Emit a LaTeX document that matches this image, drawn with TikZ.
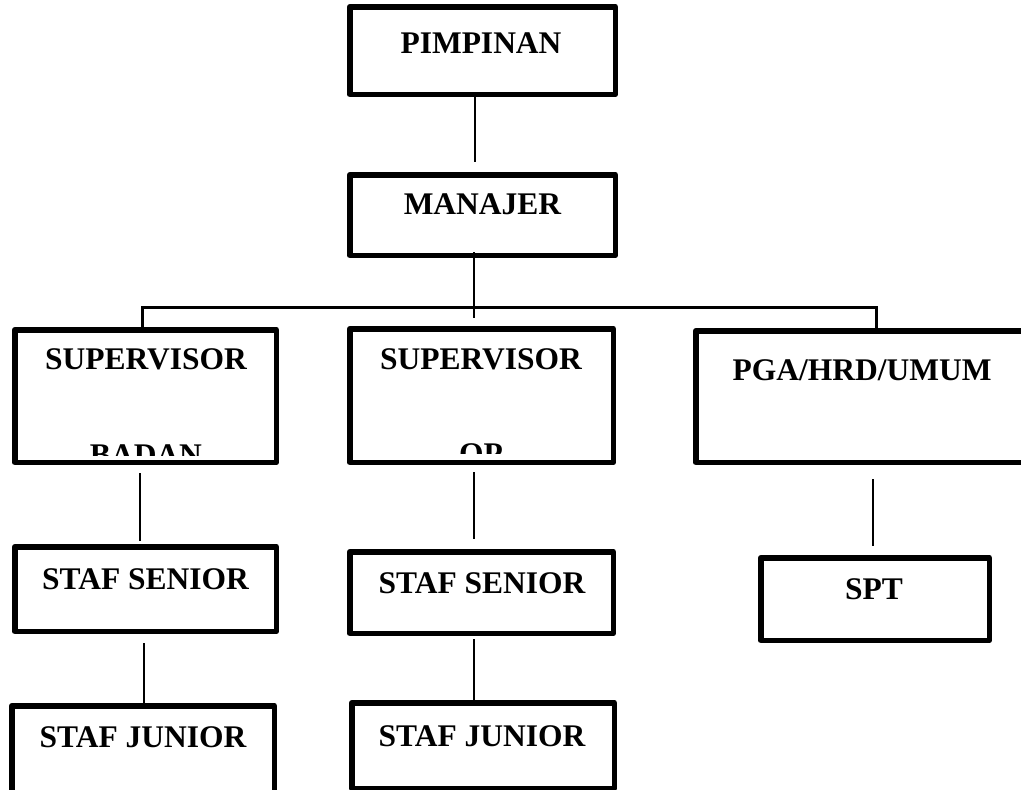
\documentclass[tikz,border=0pt]{standalone}
\usepackage{fontspec}
\setmainfont{Liberation Serif}
\begin{document}
\begin{tikzpicture}[x=1pt,y=-1pt,
  boxst/.style={draw=black, line width=5.5pt, rectangle, inner sep=0pt, line join=round},
  lbl/.style={font=\bfseries\fontsize{31.5pt}{36pt}\selectfont, inner sep=0pt, anchor=base, text=black},
  conn/.style={draw=black, line width=2.7pt},
  bar/.style={draw=black, line width=3pt}]
\path[use as bounding box] (0,0) rectangle (1021,790);
\clip (0,0) rectangle (1021,790);
% boxes
\node[boxst, minimum width=265.5pt, minimum height=87.5pt] (pim) at (482.5,50.5) {};
\node[boxst, minimum width=265.5pt, minimum height=80.5pt] (man) at (482.5,215) {};
\node[boxst, minimum width=261.5pt, minimum height=132.5pt] (supb) at (145.5,396) {};
\node[boxst, minimum width=263.5pt, minimum height=133.5pt] (supo) at (481.5,395.5) {};
\node[boxst, minimum width=332.5pt, minimum height=131.5pt] (pga) at (862,396.5) {};
\node[boxst, minimum width=261.5pt, minimum height=84.5pt] (ssl) at (145.5,589) {};
\node[boxst, minimum width=263.5pt, minimum height=81.5pt] (ssm) at (481.5,592.5) {};
\node[boxst, minimum width=228.5pt, minimum height=82.5pt] (spt) at (875,599) {};
\node[boxst, minimum width=262.5pt, minimum height=91.5pt] (sjl) at (143,751.5) {};
\node[boxst, minimum width=262.5pt, minimum height=85.5pt] (sjm) at (483,745.5) {};
% labels
\node[lbl] (tpim) at (481,53) {PIMPINAN};
\node[lbl] (tman) at (482.5,214) {MANAJER};
\node[lbl] (tsupb) at (146,369) {SUPERVISOR};
\node[lbl] (tsupo) at (481,369) {SUPERVISOR};
\node[lbl] (tpga) at (862,380) {PGA/HRD/UMUM};
\node[lbl] (tssl) at (145.5,589) {STAF SENIOR};
\node[lbl] (tssm) at (482,593) {STAF SENIOR};
\node[lbl] (tspt) at (874,599) {SPT};
\node[lbl] (tsjl) at (143,747) {STAF JUNIOR};
\node[lbl] (tsjm) at (482,746) {STAF JUNIOR};
\begin{scope}
\clip (20,430) rectangle (270,455);
\node[lbl] (tbadan) at (146,465) {BADAN};
\end{scope}
\begin{scope}
\clip (355,430) rectangle (608,453);
\node[lbl] (top) at (481,464) {OP};
\end{scope}
% connectors
\coordinate (c1) at (475,162);
\draw[conn] (c1 |- pim.south) -- (c1);
\coordinate (c2) at (474,318);
\draw[conn] ([yshift=6pt]c2 |- man.south) -- (c2);
\coordinate (hl) at (142,307);
\coordinate (hr) at (876,307);
\draw[bar] (hl |- supb.north) -- (hl) -- (hr) -- (hr |- pga.north);
\coordinate (c3a) at (140,473);
\coordinate (c3b) at (140,541);
\draw[conn] (c3a) -- (c3b);
\coordinate (c4a) at (474,472);
\coordinate (c4b) at (474,539);
\draw[conn] (c4a) -- (c4b);
\coordinate (c5a) at (873,479);
\coordinate (c5b) at (873,546);
\draw[conn] (c5a) -- (c5b);
\coordinate (c6) at (144,643);
\draw[conn] (c6) -- (c6 |- sjl.north);
\coordinate (c7) at (474,639);
\draw[conn] (c7) -- (c7 |- sjm.north);
\end{tikzpicture}
\end{document}
